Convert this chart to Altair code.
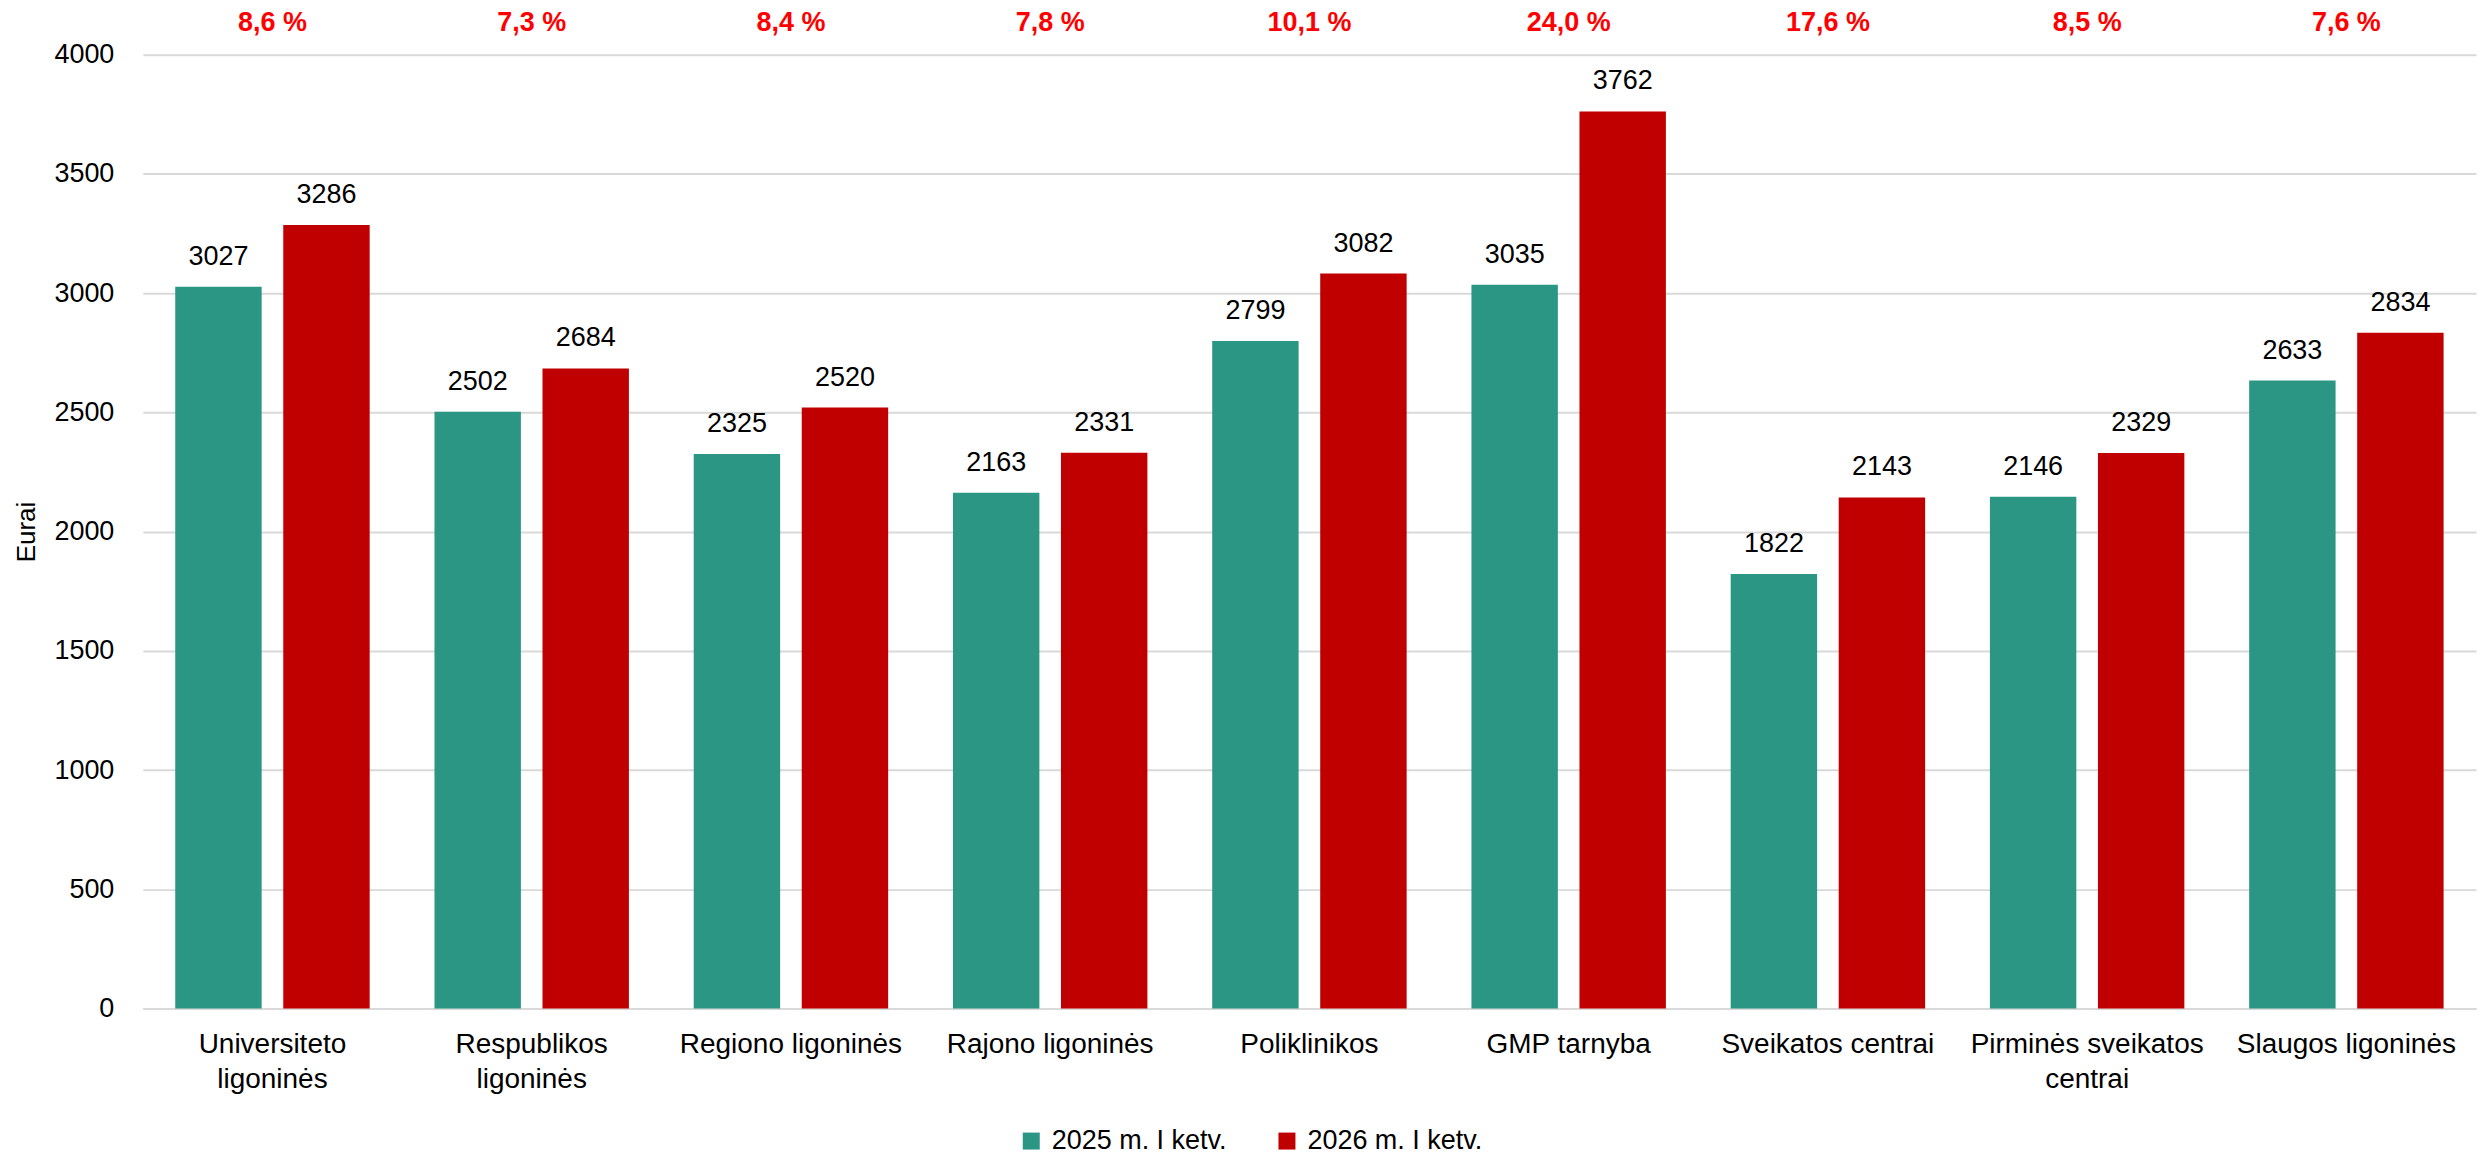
import altair as alt
import pandas as pd

categories = [
    "Universiteto ligoninės",
    "Respublikos ligoninės",
    "Regiono ligoninės",
    "Rajono ligoninės",
    "Poliklinikos",
    "GMP tarnyba",
    "Sveikatos centrai",
    "Pirminės sveikatos centrai",
    "Slaugos ligoninės",
]
series = ["2025 m. I ketv.", "2026 m. I ketv."]
values_2025 = [3027, 2502, 2325, 2163, 2799, 3035, 1822, 2146, 2633]
values_2026 = [3286, 2684, 2520, 2331, 3082, 3762, 2143, 2329, 2834]
pct_labels = ["8,6 %", "7,3 %", "8,4 %", "7,8 %", "10,1 %", "24,0 %", "17,6 %", "8,5 %", "7,6 %"]
y_ticks = [0, 500, 1000, 1500, 2000, 2500, 3000, 3500, 4000]
colors = ["#2A9683", "#C00000"]

rows = []
for s, vals in zip(series, [values_2025, values_2026]):
    for c, v in zip(categories, vals):
        rows.append({"category": c, "series": s, "value": v})
df = pd.DataFrame(rows)
pct_df = pd.DataFrame({"category": categories, "pct": pct_labels})

FONT = "Liberation Sans"

label_expr = (
    "datum.value == 'Universiteto ligoninės' ? ['Universiteto', 'ligoninės'] : "
    "datum.value == 'Respublikos ligoninės' ? ['Respublikos', 'ligoninės'] : "
    "datum.value == 'Pirminės sveikatos centrai' ? ['Pirminės sveikatos', 'centrai'] : datum.label"
)

x_enc = alt.X(
    "category:N",
    sort=categories,
    scale=alt.Scale(paddingInner=0.25, paddingOuter=0.125),
    axis=alt.Axis(
        title=None,
        labelExpr=label_expr,
        labelFontSize=28,
        labelFont=FONT,
        labelColor="#000000",
        labelAngle=0,
        labelPadding=22,
        labelBaseline="top",
        labelLineHeight=35,
        labelLimit=400,
        ticks=False,
        domainColor="#D9D9D9",
        domainWidth=2,
        grid=False,
    ),
)
xoff_enc = alt.XOffset("series:N", sort=series, scale=alt.Scale(paddingInner=0.2, paddingOuter=0))
y_scale = alt.Scale(domain=[0, 4000], nice=False)

bars = alt.Chart(df).mark_bar().encode(
    x=x_enc,
    xOffset=xoff_enc,
    y=alt.Y(
        "value:Q",
        scale=y_scale,
        axis=alt.Axis(
            title="Eurai",
            titleFont=FONT,
            titleFontSize=26,
            titleFontWeight="normal",
            titleColor="#000000",
            titlePadding=14,
            values=y_ticks,
            format="d",
            labelFont=FONT,
            labelFontSize=27,
            labelColor="#000000",
            labelPadding=29,
            ticks=False,
            domain=False,
            gridColor="#D9D9D9",
            gridWidth=2,
        ),
    ),
    color=alt.Color(
        "series:N",
        sort=series,
        scale=alt.Scale(domain=series, range=colors),
        legend=alt.Legend(
            title=None,
            orient="none",
            direction="horizontal",
            legendX=876,
            legendY=1074,
            symbolType="square",
            symbolSize=289,
            symbolStrokeWidth=0,
            symbolOpacity=1,
            labelFont=FONT,
            labelFontSize=27,
            labelColor="#000000",
            labelOffset=7,
            labelLimit=400,
            columnPadding=46,
            padding=0,
        ),
    ),
)

value_text = alt.Chart(df).mark_text(
    font=FONT, fontSize=27, color="#000000", baseline="middle", dy=-30
).encode(
    x=alt.X("category:N", sort=categories),
    xOffset=alt.XOffset("series:N", sort=series),
    y=alt.Y("value:Q", scale=y_scale),
    text=alt.Text("value:Q", format="d"),
)

pct_text = alt.Chart(pct_df).mark_text(
    font=FONT, fontSize=27, fontWeight="bold", color="#FF0000", baseline="middle"
).encode(
    x=alt.X("category:N", sort=categories),
    y=alt.value(-32),
    text="pct:N",
)

chart = (
    alt.layer(bars, value_text, pct_text)
    .properties(
        width=2336,
        height=955,
        background="white",
        padding={"top": 0, "left": 5, "right": 2, "bottom": 0},
    )
    .configure_view(stroke="transparent", strokeWidth=0)
)

chart.save("out.html", embed_options={"renderer": "svg", "actions": False})
